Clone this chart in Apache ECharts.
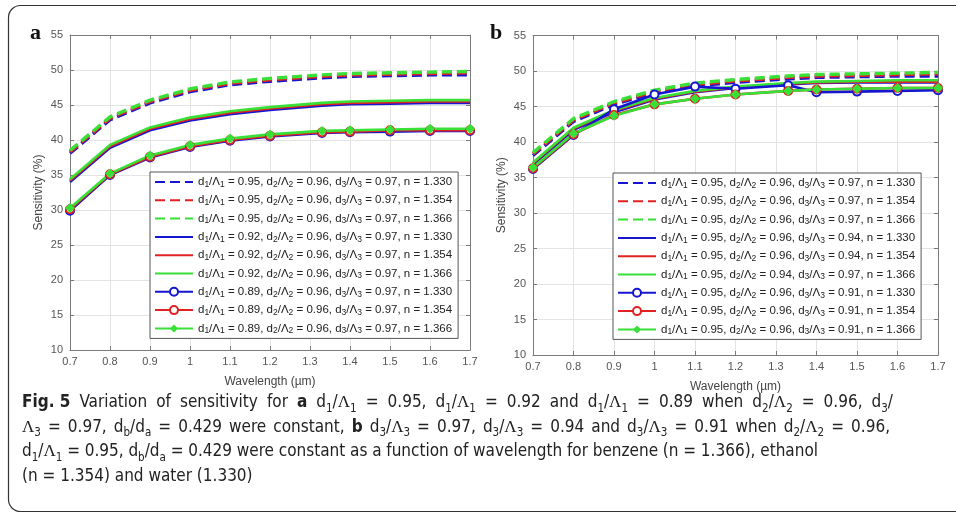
<!DOCTYPE html>
<html><head><meta charset="utf-8">
<script src="https://cdn.jsdelivr.net/npm/echarts@6/dist/echarts.min.js"></script>
<style>html,body{margin:0;padding:0;background:#fff}#c{width:956px;height:516px}</style>
</head><body><div id="c"></div>
<script>
// ---------- data ----------
const wavelengths = [0.7, 0.8, 0.9, 1.0, 1.1, 1.2, 1.33, 1.4, 1.5, 1.6, 1.7];
const xTicks = [0.7, 0.8, 0.9, 1.0, 1.1, 1.2, 1.3, 1.4, 1.5, 1.6, 1.7];
const yTicks = [10, 15, 20, 25, 30, 35, 40, 45, 50, 55];

// shared: d1/Λ1 = 0.95, d2/Λ2 = 0.96, d3/Λ3 = 0.97
const base_n1330 = [38.1, 42.9, 45.3, 46.9, 47.9, 48.4, 48.9, 49.1, 49.2, 49.3, 49.3];
const base_n1354 = [38.3, 43.1, 45.5, 47.1, 48.1, 48.6, 49.1, 49.3, 49.4, 49.5, 49.6];
const base_n1366 = [38.5, 43.3, 45.7, 47.3, 48.3, 48.8, 49.3, 49.5, 49.6, 49.7, 49.8];

// panel a: d1/Λ1 = 0.92
const a092_n1330 = [34.0, 38.9, 41.4, 42.8, 43.7, 44.3, 44.9, 45.1, 45.2, 45.3, 45.3];
const a092_n1354 = [34.2, 39.1, 41.6, 43.0, 43.9, 44.5, 45.1, 45.3, 45.4, 45.5, 45.5];
const a092_n1366 = [34.4, 39.3, 41.8, 43.2, 44.1, 44.7, 45.3, 45.5, 45.6, 45.7, 45.7];
// panel a: d1/Λ1 = 0.89
const a089_n1330 = [29.9, 35.0, 37.5, 39.0, 39.9, 40.5, 41.0, 41.1, 41.2, 41.3, 41.3];
const a089_n1354 = [30.1, 35.1, 37.6, 39.1, 40.0, 40.6, 41.1, 41.2, 41.4, 41.4, 41.4];
const a089_n1366 = [30.3, 35.2, 37.8, 39.3, 40.2, 40.8, 41.3, 41.4, 41.5, 41.6, 41.6];

// panel b: d3/Λ3 = 0.94
const b094_n1330 = [36.8, 41.7, 44.2, 46.0, 47.0, 47.6, 48.1, 48.3, 48.4, 48.4, 48.4];
const b094_n1354 = [37.0, 41.9, 44.4, 46.1, 47.1, 47.7, 48.2, 48.4, 48.5, 48.5, 48.5];
const b094_n1366 = [37.1, 42.0, 44.5, 46.2, 47.2, 47.8, 48.3, 48.5, 48.6, 48.7, 48.7];
// panel b: d3/Λ3 = 0.91
const b091_n1330 = [36.2, 41.0, 44.6, 46.7, 47.8, 47.5, 48.0, 47.0, 47.1, 47.2, 47.3];
const b091_n1354 = [36.3, 41.1, 43.8, 45.3, 46.1, 46.7, 47.2, 47.4, 47.5, 47.6, 47.6];
const b091_n1366 = [36.4, 41.2, 43.7, 45.3, 46.1, 46.7, 47.2, 47.4, 47.5, 47.6, 47.6];

const namesA = [
  'd1/Λ1 = 0.95, d2/Λ2 = 0.96, d3/Λ3 = 0.97, n = 1.330',
  'd1/Λ1 = 0.95, d2/Λ2 = 0.96, d3/Λ3 = 0.97, n = 1.354',
  'd1/Λ1 = 0.95, d2/Λ2 = 0.96, d3/Λ3 = 0.97, n = 1.366',
  'd1/Λ1 = 0.92, d2/Λ2 = 0.96, d3/Λ3 = 0.97, n = 1.330',
  'd1/Λ1 = 0.92, d2/Λ2 = 0.96, d3/Λ3 = 0.97, n = 1.354',
  'd1/Λ1 = 0.92, d2/Λ2 = 0.96, d3/Λ3 = 0.97, n = 1.366',
  'd1/Λ1 = 0.89, d2/Λ2 = 0.96, d3/Λ3 = 0.97, n = 1.330',
  'd1/Λ1 = 0.89, d2/Λ2 = 0.96, d3/Λ3 = 0.97, n = 1.354',
  'd1/Λ1 = 0.89, d2/Λ2 = 0.96, d3/Λ3 = 0.97, n = 1.366'
];
const namesB = [
  'd1/Λ1 = 0.95, d2/Λ2 = 0.96, d3/Λ3 = 0.97, n = 1.330',
  'd1/Λ1 = 0.95, d2/Λ2 = 0.96, d3/Λ3 = 0.97, n = 1.354',
  'd1/Λ1 = 0.95, d2/Λ2 = 0.96, d3/Λ3 = 0.97, n = 1.366',
  'd1/Λ1 = 0.95, d2/Λ2 = 0.96, d3/Λ3 = 0.94, n = 1.330',
  'd1/Λ1 = 0.95, d2/Λ2 = 0.96, d3/Λ3 = 0.94, n = 1.354',
  'd1/Λ1 = 0.95, d2/Λ2 = 0.94, d3/Λ3 = 0.97, n = 1.366',
  'd1/Λ1 = 0.95, d2/Λ2 = 0.96, d3/Λ3 = 0.91, n = 1.330',
  'd1/Λ1 = 0.95, d2/Λ2 = 0.96, d3/Λ3 = 0.91, n = 1.354',
  'd1/Λ1 = 0.95, d2/Λ2 = 0.96, d3/Λ3 = 0.91, n = 1.366'
];
const valuesA = [base_n1330, base_n1354, base_n1366, a092_n1330, a092_n1354, a092_n1366, a089_n1330, a089_n1354, a089_n1366];
const valuesB = [base_n1330, base_n1354, base_n1366, b094_n1330, b094_n1354, b094_n1366, b091_n1330, b091_n1354, b091_n1366];

const capLines = [
  '**Fig. 5** Variation of sensitivity for **a** d_1/Λ_1 = 0.95, d_1/Λ_1 = 0.92 and d_1/Λ_1 = 0.89 when d_2/Λ_2 = 0.96, d_3/',
  'Λ_3 = 0.97, d_b/d_a = 0.429 were constant, **b** d_3/Λ_3 = 0.97, d_3/Λ_3 = 0.94 and d_3/Λ_3 = 0.91 when d_2/Λ_2 = 0.96,',
  'd_1/Λ_1 = 0.95, d_b/d_a = 0.429 were constant as a function of wavelength for benzene (n = 1.366), ethanol',
  '(n = 1.354) and water (1.330)'
];

// ---------- styling ----------
const COLORS = ['#1616d0', '#e02222', '#38e038'];
const FONT = '"Liberation Sans", Arial, sans-serif';
const axisGray = '#7a7a7a';
const labelGray = '#555';

function makeSeries(names, values, idx) {
  return names.map((name, k) => {
    const group = Math.floor(k / 3), c = COLORS[k % 3];
    const s = {
      name, type: 'line', xAxisIndex: idx * 2, yAxisIndex: idx * 2,
      data: wavelengths.map((w, i) => [w, values[k][i]]),
      silent: true, animation: false,
      lineStyle: { color: c, width: group === 0 ? 3.4 : 2.6 },
      itemStyle: { color: c }
    };
    if (group === 0) { s.lineStyle.type = [10, 5]; s.symbol = 'none'; }
    else if (group === 1) { s.symbol = 'none'; }
    else {
      if (k % 3 === 2) { s.symbol = 'diamond'; s.symbolSize = 10; }
      else { s.symbol = 'emptyCircle'; s.symbolSize = 8; s.itemStyle.borderWidth = 2; }
    }
    return s;
  });
}

function axesFor(idx) {
  const x = [{
    gridIndex: idx, type: 'value', min: xTicks[0], max: xTicks[xTicks.length - 1], interval: 0.1,
    position: 'bottom',
    axisLine: { lineStyle: { color: axisGray, width: 1 } },
    axisTick: { inside: true, length: 4, lineStyle: { color: axisGray } },
    splitLine: { show: true, lineStyle: { color: '#e3e3e3', width: 1 } },
    axisLabel: { color: labelGray, fontSize: 11, fontFamily: FONT, margin: 6 },
    name: 'Wavelength (µm)', nameLocation: 'middle', nameGap: 26,
    nameTextStyle: { color: '#444', fontSize: 12, fontFamily: FONT }
  }, {
    gridIndex: idx, type: 'value', min: xTicks[0], max: xTicks[xTicks.length - 1], interval: 0.1,
    position: 'top',
    axisLine: { lineStyle: { color: axisGray, width: 1 } },
    axisTick: { inside: true, length: 4, lineStyle: { color: axisGray } },
    splitLine: { show: false }, axisLabel: { show: false }
  }];
  const y = [{
    gridIndex: idx, type: 'value', min: yTicks[0], max: yTicks[yTicks.length - 1], interval: 5,
    position: 'left',
    axisLine: { show: true, lineStyle: { color: axisGray, width: 1 } },
    axisTick: { show: true, inside: true, length: 4, lineStyle: { color: axisGray } },
    splitLine: { show: true, lineStyle: { color: '#e3e3e3', width: 1 } },
    axisLabel: { color: labelGray, fontSize: 11, fontFamily: FONT, margin: 7 },
    name: 'Sensitivity (%)', nameLocation: 'middle', nameGap: 25, nameRotate: 90,
    nameTextStyle: { color: '#444', fontSize: 12, fontFamily: FONT }
  }, {
    gridIndex: idx, type: 'value', min: yTicks[0], max: yTicks[yTicks.length - 1], interval: 5,
    position: 'right',
    axisLine: { show: true, lineStyle: { color: axisGray, width: 1 } },
    axisTick: { show: true, inside: true, length: 4, lineStyle: { color: axisGray } },
    splitLine: { show: false }, axisLabel: { show: false }
  }];
  return { x, y };
}

const legendRich = {
  s: { fontSize: 8.5, fontFamily: FONT, color: '#222', verticalAlign: 'bottom', lineHeight: 10 }
};
function legendFor(names, left, top) {
  return {
    data: names.map((n, k) => k < 6
      ? { name: n, itemStyle: { opacity: 0, color: 'rgba(0,0,0,0)', borderWidth: 0 } }
      : { name: n }),
    orient: 'vertical', left, top,
    backgroundColor: '#fff', borderColor: '#555', borderWidth: 1,
    padding: [3, 6, 3, 4], itemWidth: 38, itemHeight: 10, itemGap: 4.3,
    selectedMode: false,
    textStyle: { color: '#222', fontSize: 11.5, fontFamily: FONT, lineHeight: 14, rich: legendRich },
    formatter: n => n.replace(/([dΛ])(\d)/g, '$1{s|$2}')
  };
}

const A = axesFor(0), B = axesFor(1);

// ---------- caption (ragged right; long lines spread to the reference's line ends) ----------
const CAPFONT = '"Liberation Sans Narrow","DejaVu Sans Condensed","Liberation Sans",sans-serif';
const CAP = 17;
const capFonts = {
  n: CAP + 'px ' + CAPFONT,
  b: 'bold ' + CAP + 'px ' + CAPFONT,
  s: '11.5px ' + CAPFONT,
  L: CAP + 'px "Liberation Serif","DejaVu Serif",serif',
  e: CAP + 'px ' + CAPFONT,
  w: CAP + 'px ' + CAPFONT
};
const capRight = [893, 890, 818, null];
const mctx = document.createElement('canvas').getContext('2d');
function measure(t, k) { mctx.font = capFonts[k]; return mctx.measureText(t).width; }
function tokenize(line) {
  const re = /(\*\*.+?\*\*)|(_\w)|(Λ)|( = )|( )|([^*_Λ ]+)/g;
  const out = []; let m;
  while ((m = re.exec(line))) {
    if (m[1]) out.push({ t: m[1].slice(2, -2), k: 'b' });
    else if (m[2]) out.push({ t: m[2].slice(1), k: 's' });
    else if (m[3]) out.push({ t: 'Λ', k: 'L' });
    else if (m[4]) out.push({ t: ' = ', k: 'e' });
    else if (m[5]) out.push({ t: ' ', k: 'w' });
    else out.push({ t: m[6], k: 'n' });
  }
  return out;
}
const capGraphics = capLines.map((line, li) => {
  const toks = tokenize(line);
  const natural = toks.reduce((a, tk) => a + measure(tk.t, tk.k), 0);
  const nSlots = toks.filter(tk => tk.k === 'w').length + 2 * toks.filter(tk => tk.k === 'e').length;
  let extra = 0;
  if (capRight[li] && nSlots) extra = Math.max(-0.8, (capRight[li] - 22 - natural) / nSlots);
  const rich = {
    b: { font: capFonts.b, fill: '#222' },
    s: { font: capFonts.s, fill: '#222', verticalAlign: 'bottom', lineHeight: 14 },
    L: { font: capFonts.L, fill: '#222' },
    e: { font: capFonts.e, fill: '#222', padding: [0, extra] },
    w: { font: capFonts.w, fill: '#222', padding: [0, extra / 2] }
  };
  const text = toks.map(tk => tk.k === 'n' ? tk.t : '{' + tk.k + '|' + tk.t + '}').join('');
  return { type: 'text', left: 22, top: 391 + li * 24.5, silent: true,
    style: { text, rich, font: capFonts.n, fill: '#222', lineHeight: 24 } };
});

const option = {
  animation: false,
  grid: [
    { left: 70, top: 35, width: 400, height: 315 },
    { left: 533, top: 35.5, width: 405, height: 319.5 }
  ],
  xAxis: [...A.x, ...B.x],
  yAxis: [...A.y, ...B.y],
  legend: [legendFor(namesA, 150, 172), legendFor(namesB, 613, 173)],
  series: [...makeSeries(namesA, valuesA, 0), ...makeSeries(namesB, valuesB, 1)],
  graphic: [
    { type: 'rect', shape: { x: 8.5, y: 5.5, width: 980, height: 506, r: 12 }, style: { fill: 'none', stroke: '#333', lineWidth: 1.2 }, silent: true },
    { type: 'text', left: 30, top: 22, style: { text: 'a', font: 'bold 22px "Liberation Serif", "DejaVu Serif", serif', fill: '#111' } },
    { type: 'text', left: 490, top: 22, style: { text: 'b', font: 'bold 22px "Liberation Serif", "DejaVu Serif", serif', fill: '#111' } },
    ...capGraphics
  ]
};
const chart = echarts.init(document.getElementById('c'), null, { renderer: 'canvas' });
chart.setOption(option);
</script></body></html>
